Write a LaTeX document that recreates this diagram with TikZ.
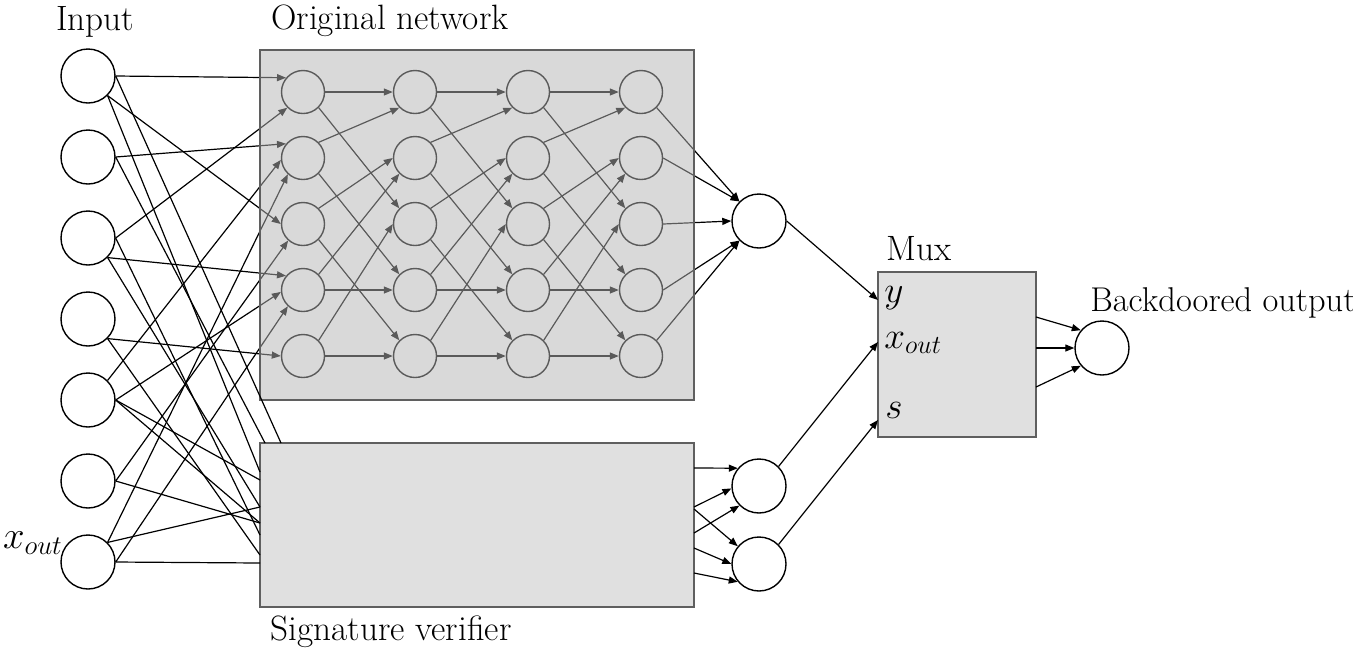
\documentclass[tikz,border=0pt]{standalone}
\usepackage{fontspec}
\usetikzlibrary{arrows.meta}
\definecolor{netfill}{RGB}{180,180,180}
\definecolor{boxfill}{RGB}{224,224,224}
\definecolor{boxline}{RGB}{95,95,95}
\begin{document}
\begin{tikzpicture}[x=0.5pt,y=-0.5pt,
  inp/.style={circle,draw,line width=0.7pt,minimum size=27pt,inner sep=0pt,fill=white},
  hid/.style={circle,draw,line width=0.7pt,minimum size=21.5pt,inner sep=0pt},
  ln/.style={line width=0.6pt},
  arr/.style={line width=0.6pt,-{Triangle[length=4.5pt,width=3.5pt]}},
  lbl/.style={font=\fontsize{17.6}{20}\selectfont,inner sep=0pt},
  mlbl/.style={font=\fontsize{17.28}{20}\selectfont,inner sep=0pt},
  boxst/.style={draw=boxline,line width=0.8pt,inner sep=0pt}]
\useasboundingbox (0,0) rectangle (1353,660);

% input nodes
\foreach \i/\y in {1/76,2/157,3/238,4/319,5/400,6/481,7/562}
  \node[inp] (I\i) at (88,\y) {};

% hidden nodes of the original network
\foreach \c/\x in {1/303,2/415,3/528,4/641}
  \foreach \r/\y in {1/92,2/158,3/224,4/290,5/356}
    \node[hid] (n\c\r) at (\x,\y) {};

% output of original network
\node[inp] (O1) at (759,221) {};

% inputs -> first layer (input/angle -> node/angle)
\foreach \a/\sa/\b/\eb in {1/0/1/140, 1/315/3/180, 2/0/2/140, 3/0/1/225, 3/315/4/140,
  4/315/5/180, 5/45/2/185, 5/0/4/185, 6/0/3/228, 7/45/2/227, 7/0/4/227}
  \draw[arr] (I\a.\sa) -- (n1\b.\eb);

% inner layers
\foreach \c/\d in {1/2,2/3,3/4}
  \foreach \a/\sa/\b/\eb in {1/0/1/180, 1/315/3/135, 2/45/1/225, 2/315/4/135,
    3/45/2/180, 3/315/5/135, 4/45/2/225, 4/0/4/180, 5/45/3/180, 5/0/5/180}
    \draw[arr] (n\c\a.\sa) -- (n\d\b.\eb);

% last layer -> output
\foreach \r/\sa/\eb in {1/315/135, 2/0/135, 3/0/180, 4/0/225, 5/45/225}
  \draw[arr] (n4\r.\sa) -- (O1.\eb);

% network box (semi-transparent overlay)
\node[boxst,fill=netfill,fill opacity=0.5,minimum width=217pt,minimum height=175pt] (net) at (477,225) {};

% signature verifier
\node[boxst,fill=boxfill,minimum width=217pt,minimum height=82pt] (V) at (477,525) {};
\coordinate (vt1) at (265,443);
\coordinate (vt2) at (281,443);
\coordinate (vl1) at (260,472);
\coordinate (vl2) at (260,480);
\coordinate (vl3) at (260,507);
\coordinate (vl4) at (260,523);
\coordinate (vl5) at (260,535);
\coordinate (vl6) at (260,555);
\coordinate (vl7) at (260,563);
\draw[ln] (I1.0) -- (vt2);
\draw[ln] (I1.315) -- (vl1);
\draw[ln] (I2.0) -- (vt1);
\draw[ln] (I3.315) -- (vl3);
\draw[ln] (I3.0) -- (vl5);
\draw[ln] (I4.315) -- (vl6);
\draw[ln] (I5.0) -- (vl2);
\draw[ln] (I5.0) -- (vl4);
\draw[ln] (I6.0) -- (vl4);
\draw[ln] (I7.45) -- (vl3);
\draw[ln] (I7.0) -- (vl7);

% verifier outputs
\node[inp] (S1) at (759,486) {};
\node[inp] (S2) at (759,564) {};
\coordinate (vo1) at (694,468);
\coordinate (vo2) at (694,507);
\coordinate (vo3) at (694,509);
\coordinate (vo4) at (694,533);
\coordinate (vo5) at (694,548);
\coordinate (vo6) at (694,573);
\draw[arr] (vo1) -- (S1.140);
\draw[arr] (vo2) -- (S1.185);
\draw[arr] (vo4) -- (S1.225);
\draw[arr] (vo3) -- (S2.140);
\draw[arr] (vo5) -- (S2.180);
\draw[arr] (vo6) -- (S2.220);

% mux
\node[boxst,fill=boxfill,minimum width=79pt,minimum height=82.5pt] (M) at (957,354.5) {};
\coordinate (my) at (878,300);
\coordinate (mx) at (878,342);
\coordinate (ms) at (878,420);
\node[mlbl,anchor=west] (ly) at (884,298) {\scalebox{1.08}{$y$}};
\node[mlbl,anchor=west] (lx) at (884,343) {\scalebox{1.08}{$x_{out}$}};
\node[mlbl,anchor=west] (ls) at (885,410) {\scalebox{1.08}{$s$}};
\draw[arr] (O1.0) -- (my);
\draw[arr] (S1.45) -- (mx);
\draw[arr] (S2.45) -- (ms);

% final output
\node[inp] (F) at (1102,348) {};
\coordinate (mo1) at (1036,317);
\coordinate (mo2) at (1036,348);
\coordinate (mo3) at (1036,387);
\draw[arr] (mo1) -- (F.140);
\draw[arr] (mo2) -- (F.180);
\draw[arr] (mo3) -- (F.220);

% labels
\node[lbl] (tin) at (95,22) {Input};
\node[lbl] (tnet) at (390,21) {Original network};
\node[lbl] (tmux) at (919,249) {Mux};
\node[lbl,font=\fontsize{17.2}{20}\selectfont,anchor=west] (tbo) at (1090,303) {Backdoored output};
\node[lbl] (tsv) at (391,632) {Signature verifier};
\node[mlbl] (txo) at (33,543) {\scalebox{1.12}{$x_{out}$}};
\end{tikzpicture}
\end{document}
